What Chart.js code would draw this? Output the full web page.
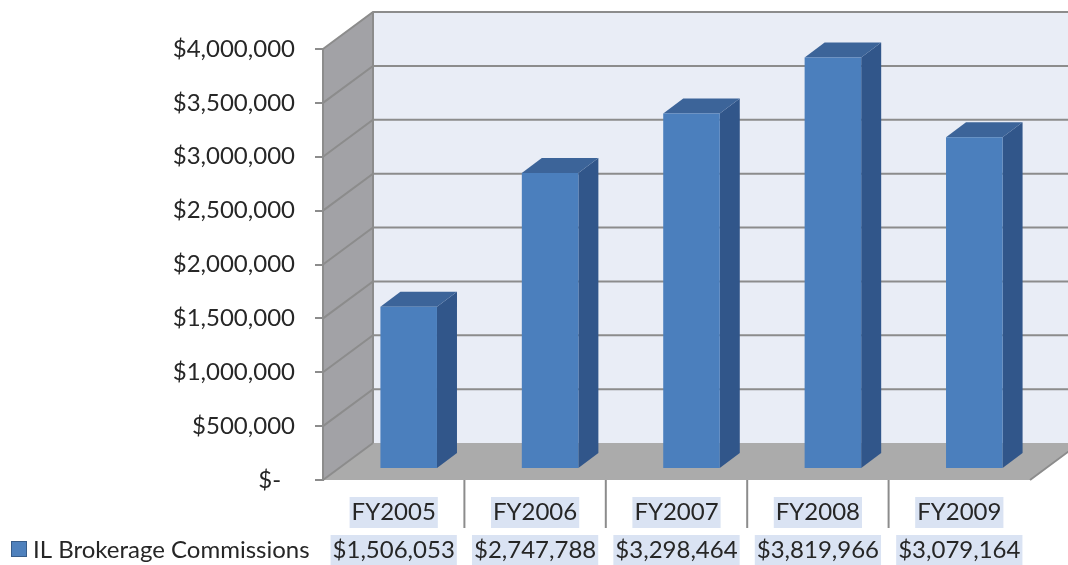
<!DOCTYPE html>
<html>
<head>
<meta charset="utf-8">
<script src="https://cdn.jsdelivr.net/npm/chart.js@4.4.1/dist/chart.umd.min.js"></script>
<style>
  html, body { margin: 0; padding: 0; background: #fff; }
  #wrap { width: 1068px; height: 565px; position: relative; }
</style>
</head>
<body>
<div id="wrap"><canvas id="commChart"></canvas></div>
<script>
const categories = ['FY2005', 'FY2006', 'FY2007', 'FY2008', 'FY2009'];
const commissions = [1506053, 2747788, 3298464, 3819966, 3079164];
const seriesName = 'IL Brokerage Commissions';
const yMin = 0;
const yMax = 4000000;
const yStep = 500000;

// 3d look: offsets of the back wall and of the bars from the front plane
const WALL_DX = 50, WALL_DY = -37;
const BAR_X = 15, BAR_Y = -11;
const BAR_DX = 20, BAR_DY = -15;
const FONT = 'Lato';
const TEXT = '#262626';
const LINE = '#8c8c8c';

function money(v) {
    if (v === 0) return '$-\u2007';
    return '$' + v.toLocaleString('en-US');
}

function poly(ctx, pts, fill, stroke) {
    ctx.beginPath();
    ctx.moveTo(pts[0][0], pts[0][1]);
    for (let i = 1; i < pts.length; i++) ctx.lineTo(pts[i][0], pts[i][1]);
    ctx.closePath();
    if (fill) { ctx.fillStyle = fill; ctx.fill(); }
    if (stroke) { ctx.strokeStyle = stroke; ctx.lineWidth = 1; ctx.stroke(); }
}

const walls = {
    id: 'walls',
    beforeDraw(chart) {
        const ctx = chart.ctx;
        const { left, right, top, bottom } = chart.chartArea;
        const y = chart.scales.y;
        ctx.save();
        ctx.fillStyle = '#fff';
        ctx.fillRect(0, 0, chart.width, chart.height);

        // back wall
        poly(ctx, [[left + WALL_DX, top + WALL_DY], [right + WALL_DX, top + WALL_DY],
                   [right + WALL_DX, bottom + WALL_DY], [left + WALL_DX, bottom + WALL_DY]], '#e9edf6');
        // side wall
        poly(ctx, [[left, top], [left + WALL_DX, top + WALL_DY],
                   [left + WALL_DX, bottom + WALL_DY], [left, bottom]], '#a2a2a6');
        // floor
        poly(ctx, [[left, bottom], [left + WALL_DX, bottom + WALL_DY],
                   [right + WALL_DX, bottom + WALL_DY], [right, bottom]], '#ababab');

        ctx.strokeStyle = LINE;
        ctx.lineWidth = 2;
        for (let v = yMin; v <= yMax; v += yStep) {
            const py = y.getPixelForValue(v);
            ctx.beginPath();
            ctx.moveTo(left, py);
            ctx.lineTo(left + WALL_DX, py + WALL_DY);
            if (v > yMin) ctx.lineTo(right + WALL_DX, py + WALL_DY);
            ctx.stroke();
        }
        ctx.beginPath();
        ctx.moveTo(left + WALL_DX, top + WALL_DY);
        ctx.lineTo(left + WALL_DX, bottom + WALL_DY);
        ctx.moveTo(right, bottom);
        ctx.lineTo(right + WALL_DX, bottom + WALL_DY);
        ctx.stroke();
        ctx.restore();
    },
    afterDatasetsDraw(chart) {
        const ctx = chart.ctx;
        const meta = chart.getDatasetMeta(0);
        ctx.save();
        meta.data.forEach(bar => {
            const w = bar.width;
            const x0 = bar.x - w / 2 + BAR_X;
            const x1 = bar.x + w / 2 + BAR_X;
            const yt = bar.y + BAR_Y;
            const yb = bar.base + BAR_Y;
            // side
            poly(ctx, [[x1, yt], [x1 + BAR_DX, yt + BAR_DY], [x1 + BAR_DX, yb + BAR_DY], [x1, yb]], '#31568a');
            // top
            poly(ctx, [[x0, yt], [x0 + BAR_DX, yt + BAR_DY], [x1 + BAR_DX, yt + BAR_DY], [x1, yt]], '#3c6499');
            // front
            poly(ctx, [[x0, yt], [x1, yt], [x1, yb], [x0, yb]], '#4b7fbd');
        });
        ctx.restore();
    },
    afterDraw(chart) {
        const ctx = chart.ctx;
        const { left, right, bottom } = chart.chartArea;
        const x = chart.scales.x;
        const catW = (right - left) / categories.length;
        ctx.save();

        ctx.strokeStyle = LINE;
        ctx.lineWidth = 2;
        for (let i = 1; i < categories.length; i++) {
            const px = left + i * catW;
            ctx.beginPath();
            ctx.moveTo(px, bottom);
            ctx.lineTo(px, 528);
            ctx.stroke();
        }

        ctx.font = '24px ' + FONT;
        ctx.textAlign = 'center';
        ctx.textBaseline = 'middle';
        const rowY = [512, 550];
        categories.forEach((c, i) => {
            const px = x.getPixelForValue(i);
            [c, money(commissions[i])].forEach((t, r) => {
                const tw = ctx.measureText(t).width;
                ctx.fillStyle = '#dae3f3';
                ctx.fillRect(px - tw / 2 - 2, rowY[r] - 15, tw + 4, 31);
                ctx.fillStyle = TEXT;
                ctx.fillText(t, px, rowY[r]);
            });
        });

        // legend key
        ctx.fillStyle = '#4f81bd';
        ctx.fillRect(11, 541, 16, 16);
        ctx.strokeStyle = '#385d8a';
        ctx.lineWidth = 1;
        ctx.strokeRect(11.5, 541.5, 15, 15);
        ctx.fillStyle = TEXT;
        ctx.textAlign = 'left';
        ctx.fillText(seriesName, 33, rowY[1]);
        ctx.restore();
    }
};

new Chart(document.getElementById('commChart'), {
    type: 'bar',
    data: {
        labels: categories,
        datasets: [{
            label: seriesName,
            data: commissions,
            backgroundColor: 'rgba(0,0,0,0)',
            borderWidth: 0,
            barPercentage: 0.4,
            categoryPercentage: 1
        }]
    },
    options: {
        responsive: true,
        maintainAspectRatio: false,
        animation: false,
        layout: { padding: { top: 49, right: 38, bottom: 85, left: 0 } },
        plugins: { legend: { display: false }, tooltip: { enabled: false } },
        scales: {
            x: { display: false },
            y: {
                min: yMin,
                max: yMax,
                afterFit(scale) { scale.width = 323; },
                ticks: {
                    stepSize: yStep,
                    callback: v => money(v),
                    font: { family: FONT, size: 24 },
                    color: TEXT,
                    padding: 20
                },
                grid: { drawOnChartArea: false, tickLength: 8, color: LINE, lineWidth: 2 },
                border: { color: LINE, width: 2 }
            }
        }
    },
    plugins: [walls]
});
</script>
</body>
</html>
